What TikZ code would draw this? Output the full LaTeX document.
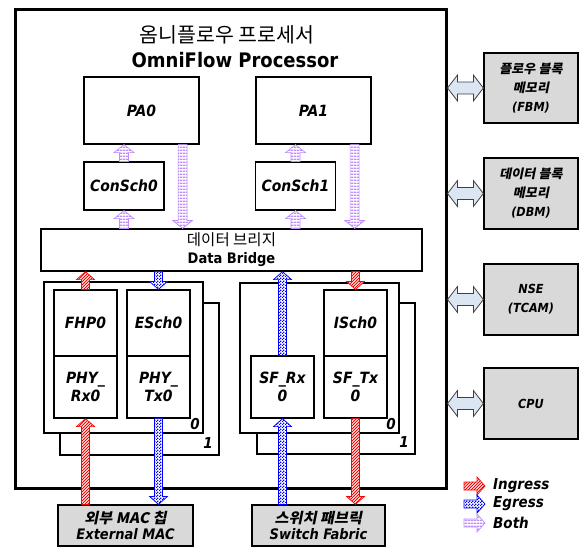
\documentclass[tikz,border=0pt]{standalone}
\usepackage{fontspec}
\setmainfont{DejaVu Sans Condensed}
\newfontfamily\kor{Noto Sans CJK KR}
\newfontfamily\korbi{Noto Sans CJK KR Bold}[FakeSlant=0.2, FakeStretch=1.05]
\usetikzlibrary{calc,patterns}
\definecolor{bothcol}{RGB}{190,140,255}
\definecolor{boxgray}{RGB}{217,217,217}
\definecolor{linkblue}{RGB}{220,230,242}
\pgfdeclarepatternformonly{hbars}{\pgfpointorigin}{\pgfqpoint{3pt}{3pt}}{\pgfqpoint{3pt}{3pt}}%
  {\pgfpathrectangle{\pgfpointorigin}{\pgfqpoint{3pt}{1.7pt}}\pgfusepath{fill}}
\pgfdeclarepatternformonly{diagbars}{\pgfqpoint{-1pt}{-1pt}}{\pgfqpoint{4pt}{4pt}}{\pgfqpoint{3pt}{3pt}}%
  {\pgfsetlinewidth{0.9pt}\pgfpathmoveto{\pgfqpoint{0pt}{0pt}}\pgfpathlineto{\pgfqpoint{3.1pt}{3.1pt}}\pgfusepath{stroke}}
\pgfdeclarepatternformonly{finecheck}{\pgfpointorigin}{\pgfqpoint{3pt}{3pt}}{\pgfqpoint{3pt}{3pt}}%
  {\pgfpathrectangle{\pgfpointorigin}{\pgfqpoint{1.5pt}{1.5pt}}\pgfpathrectangle{\pgfqpoint{1.5pt}{1.5pt}}{\pgfqpoint{1.5pt}{1.5pt}}\pgfusepath{fill}}
\newcommand{\fashaft}{4pt}
\newcommand{\fawing}{9pt}
\newcommand{\fahead}{8pt}
\newcommand{\fatarrow}[3]{%
  \coordinate (fa-h) at ($(#3)!\fahead!(#2)$);
  \path[#1] ($(#2)!\fashaft!90:(#3)$) -- ($(fa-h)!\fashaft!90:(#3)$)
    -- ($(fa-h)!\fawing!90:(#3)$) -- (#3) -- ($(fa-h)!\fawing!-90:(#3)$)
    -- ($(fa-h)!\fashaft!-90:(#3)$) -- ($(#2)!\fashaft!-90:(#3)$) -- cycle;}
\newcommand{\bidir}[2]{%
  \coordinate (bd-a) at ($(#1)!10pt!(#2)$);
  \coordinate (bd-b) at ($(#2)!10pt!(#1)$);
  \path[link] (#1) -- ($(bd-a)!13pt!90:(#2)$) -- ($(bd-a)!6pt!90:(#2)$)
    -- ($(bd-b)!6pt!90:(#2)$) -- ($(bd-b)!13pt!90:(#2)$) -- (#2)
    -- ($(bd-b)!13pt!-90:(#2)$) -- ($(bd-b)!6pt!-90:(#2)$)
    -- ($(bd-a)!6pt!-90:(#2)$) -- ($(bd-a)!13pt!-90:(#2)$) -- cycle;}

\begin{document}
\begin{tikzpicture}[x=1pt,y=-1pt,
  blk/.style={draw, line width=1.2pt, fill=white, inner sep=0pt, align=center,
    font=\fontsize{15.5}{18}\selectfont\bfseries\itshape},
  ext/.style={blk, fill=boxgray, font=\fontsize{12.5}{19}\selectfont\bfseries\itshape},
  tag/.style={inner sep=0pt, font=\fontsize{15}{18}\selectfont\bfseries\itshape},
  ingress/.style={draw=red, line width=0.7pt, preaction={fill=white},
    pattern=diagbars, pattern color=red},
  egress/.style={draw=blue, line width=0.7pt, preaction={fill=white},
    pattern=finecheck, pattern color=blue},
  both/.style={draw=bothcol, line width=0.7pt, preaction={fill=white},
    pattern=hbars, pattern color=bothcol},
  link/.style={draw=black!75, fill=linkblue, line width=0.8pt}]
\useasboundingbox (0,0) rectangle (579,547);

\node[draw, line width=3pt, fill=white, minimum width=431pt, minimum height=479pt] (omni) at (230.5,248.5) {};
\node[inner sep=0pt, font=\kor\fontsize{20.5}{24}\selectfont] (title) at (227,35) {옴니플로우 프로세서};
\node[inner sep=0pt, font=\fontsize{20}{24}\selectfont\bfseries] (subtitle) at (235,60) {OmniFlow Processor};

\node[blk, minimum width=115pt, minimum height=67pt] (pa0) at (141.5,110.5) {PA0};
\node[blk, minimum width=115pt, minimum height=67pt] (pa1) at (313.5,110.5) {PA1};
\node[blk, minimum width=80pt, minimum height=48pt] (consch0) at (124,186) {ConSch0};
\node[blk, minimum width=80pt, minimum height=48pt] (consch1) at (295.5,186) {ConSch1};
\node[blk, minimum width=381pt, minimum height=42pt, font=\fontsize{14.5}{18}\selectfont] (bridge) at (231.5,250)
  {{\kor\fontsize{15.5}{18}\selectfont 데이터 브리지}\\\textbf{Data Bridge}};

\node[blk, minimum width=159pt, minimum height=152pt] (grp0b) at (139.5,379) {};
\node[blk, minimum width=159pt, minimum height=151pt] (grp0) at (123.5,357.5) {};
\node[blk, minimum width=63pt, minimum height=66pt] (fhp0) at (85.5,323) {FHP0};
\node[blk, minimum width=63pt, minimum height=62pt] (phyrx0) at (85.5,387) {PHY\_\\Rx0};
\node[blk, minimum width=63pt, minimum height=66pt] (esch0) at (158.5,323) {ESch0};
\node[blk, minimum width=63pt, minimum height=62pt] (phytx0) at (158.5,387) {PHY\_\\Tx0};
\node[tag] (n0a) at (195,424) {0};
\node[tag] (n1a) at (208,443) {1};

\node[blk, minimum width=158pt, minimum height=151pt] (grp1b) at (336,378.5) {};
\node[blk, minimum width=159pt, minimum height=150pt] (grp1) at (319.5,358) {};
\node[blk, minimum width=63pt, minimum height=62pt] (sfrx0) at (282.5,387) {SF\_Rx\\0};
\node[blk, minimum width=63pt, minimum height=66pt] (isch0) at (355.5,323) {ISch0};
\node[blk, minimum width=63pt, minimum height=62pt] (sftx0) at (355.5,387) {SF\_Tx\\0};
\node[tag] (n0b) at (391,424) {0};
\node[tag] (n1b) at (404,442) {1};

\node[blk, fill=boxgray, minimum width=135pt, minimum height=41pt, font=\fontsize{14.5}{15.5}\selectfont\bfseries\itshape] (extmac) at (125.5,525.5)
  {{\korbi 외부 MAC 칩}\\External MAC};
\node[blk, fill=boxgray, minimum width=133pt, minimum height=41pt, font=\fontsize{14.5}{15.5}\selectfont\bfseries\itshape] (swfab) at (318.5,525.5)
  {{\korbi 스위치 패브릭}\\Switch Fabric};

\node[ext, minimum width=94pt, minimum height=70pt] (fbm) at (531,88) {{\korbi 플로우 블록}\\{\korbi 메모리}\\(FBM)};
\node[ext, minimum width=94pt, minimum height=71pt] (dbm) at (531,193.5) {{\korbi 데이터 블록}\\{\korbi 메모리}\\(DBM)};
\node[ext, minimum width=94pt, minimum height=71pt] (nse) at (531,299.5) {NSE\\(TCAM)};
\node[ext, minimum width=94pt, minimum height=71pt] (cpu) at (531,403.5) {CPU};

\bidir{omni.east |- fbm}{fbm.west}
\bidir{omni.east |- dbm}{dbm.west}
\bidir{omni.east |- nse}{nse.west}
\bidir{omni.east |- cpu}{cpu.west}

\begin{scope}
\renewcommand{\fashaft}{4.5pt}
\renewcommand{\fawing}{10pt}
\coordinate (pa0out) at ([xshift=-17pt]pa0.south east);
\coordinate (pa1out) at ([xshift=-17pt]pa1.south east);
\fatarrow{both}{consch0.north}{consch0.north |- pa0.south}
\fatarrow{both}{consch0.south |- bridge.north}{consch0.south}
\fatarrow{both}{pa0out}{pa0out |- bridge.north}
\fatarrow{both}{consch1.north}{consch1.north |- pa1.south}
\fatarrow{both}{consch1.south |- bridge.north}{consch1.south}
\fatarrow{both}{pa1out}{pa1out |- bridge.north}
\end{scope}

\fatarrow{ingress}{fhp0.north}{fhp0.north |- bridge.south}
\fatarrow{egress}{esch0.north |- bridge.south}{esch0.north}
\fatarrow{egress}{sfrx0.north}{sfrx0.north |- bridge.south}
\fatarrow{ingress}{isch0.north |- bridge.south}{isch0.north}
\fatarrow{ingress}{phyrx0.south |- extmac.north}{phyrx0.south}
\fatarrow{egress}{phytx0.south}{phytx0.south |- extmac.north}
\fatarrow{egress}{sfrx0.south |- swfab.north}{sfrx0.south}
\fatarrow{ingress}{sftx0.south}{sftx0.south |- swfab.north}

\coordinate (lg1) at (464,486);
\coordinate (lg2) at (464,504);
\coordinate (lg3) at (464,523);
\fatarrow{ingress}{lg1}{[xshift=21pt]lg1}
\fatarrow{egress}{lg2}{[xshift=21pt]lg2}
\fatarrow{both}{lg3}{[xshift=21pt]lg3}
\node[tag, anchor=west] (ingr) at (493,486) {Ingress};
\node[tag, anchor=west] (egr) at (493,504) {Egress};
\node[tag, anchor=west] (bth) at (493,523) {Both};
\end{tikzpicture}
\end{document}
